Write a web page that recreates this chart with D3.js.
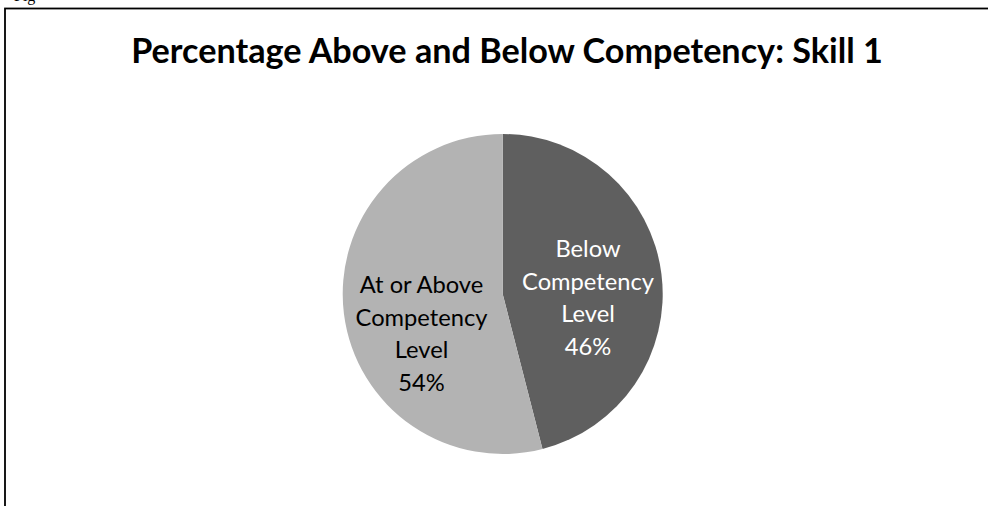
<!DOCTYPE html>
<html><head><meta charset="utf-8">
<script src="https://cdn.jsdelivr.net/npm/d3@7"></script>
<style>html,body{margin:0;padding:0;background:#fff;overflow:hidden}</style>
</head><body>
<script>
const categories = ["Below Competency Level", "At or Above Competency Level"];
const values = [46, 54];
const labelLines = [["Below", "Competency", "Level", "46%"], ["At or Above", "Competency", "Level", "54%"]];
const colors = ["#5f5f5f", "#b3b3b3"];
const labelColors = ["#ffffff", "#000000"];
const title = "Percentage Above and Below Competency: Skill 1";

const W = 988, H = 506;
const svg = d3.select("body").append("svg").attr("width", W).attr("height", H);

// partial caption from surrounding document
svg.append("text").attr("x", 14).attr("y", 0.5)
  .style("font-family", "'Liberation Serif','Times New Roman',serif").style("font-size", "16px")
  .text("Fig");

// chart border
svg.append("rect").attr("x", 5).attr("y", 8.5).attr("width", W + 10).attr("height", H + 10)
  .attr("fill", "none").attr("stroke", "#000").attr("stroke-width", 1.8);

const FONT = "Lato, 'Open Sans', sans-serif";

const t = svg.append("text").attr("x", 507).attr("y", 63).attr("text-anchor", "middle")
  .style("font-family", FONT).style("font-weight", "bold").style("font-size", "30px")
  .attr("fill", "#000").text(title);
// fit to reference width
(function(){ const w = t.node().getComputedTextLength(); t.style("font-size", (30 * 752 / w) + "px"); })();

const cx = 502.7, cy = 294, r = 160;
const pie = d3.pie().sort(null).value(d => d)(values);
const arc = d3.arc().innerRadius(0).outerRadius(r);
const g = svg.append("g").attr("transform", `translate(${cx},${cy})`);
g.selectAll("path").data(pie).join("path").attr("d", arc).attr("fill", (d, i) => colors[i]);

// labels
const labelPos = [[588 - cx, 257 - cy], [421.5 - cx, 293 - cy]];
const lineH = 32.6;
pie.forEach((d, i) => {
  const tx = g.append("text").attr("text-anchor", "middle")
    .style("font-family", FONT).style("font-size", "24px").attr("fill", labelColors[i]);
  labelLines[i].forEach((ln, k) => {
    tx.append("tspan").attr("x", labelPos[i][0]).attr("y", labelPos[i][1] + k * lineH).text(ln);
  });
});
// fit label font to reference "Competency" width (132px)
(function(){
  const tmp = svg.append("text").style("font-family", FONT).style("font-size", "24px").text("Competency");
  const w = tmp.node().getComputedTextLength(); tmp.remove();
  g.selectAll("text").style("font-size", (24 * 132 / w) + "px");
})();
</script>
</body></html>
